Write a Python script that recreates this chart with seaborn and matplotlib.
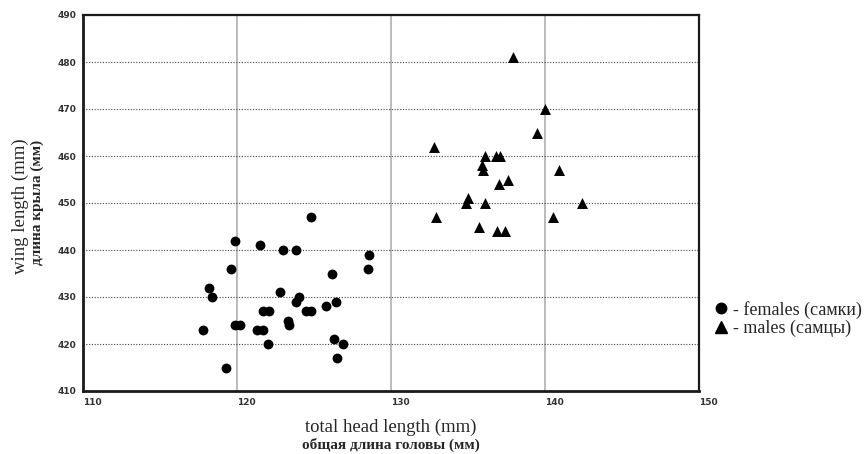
import numpy as np
import pandas as pd
import matplotlib.pyplot as plt
import seaborn as sns
from matplotlib.lines import Line2D

# females (самки): total head length, wing length
fem_head = [119.9, 121.5, 123.0, 123.8, 124.8, 119.6, 118.2, 118.4, 117.8, 119.9,
            120.2, 119.3, 121.3, 121.7, 121.7, 122.1, 122.0, 122.8, 123.8, 124.0,
            123.3, 123.4, 124.5, 124.8, 125.8, 126.2, 126.4, 126.3, 126.9, 126.5,
            128.6, 128.5]
fem_wing = [442, 441, 440, 440, 447, 436, 432, 430, 423, 424,
            424, 415, 423, 423, 427, 427, 420, 431, 429, 430,
            425, 424, 427, 427, 428, 435, 429, 421, 420, 417,
            439, 436]

# males (самцы)
male_head = [137.9, 140.0, 139.5, 132.8, 136.1, 136.8, 137.1, 135.9, 136.0, 140.9,
             137.6, 137.0, 135.0, 134.9, 136.1, 142.4, 132.9, 140.5, 135.7, 136.9,
             137.4]
male_wing = [481, 470, 465, 462, 460, 460, 460, 458, 457, 457,
             455, 454, 451, 450, 450, 450, 447, 447, 445, 444,
             444]

x_ticks = [110, 120, 130, 140, 150]
y_ticks = [410, 420, 430, 440, 450, 460, 470, 480, 490]

fem = pd.DataFrame({'head': fem_head, 'wing': fem_wing})
male = pd.DataFrame({'head': male_head, 'wing': male_wing})

sns.set_style('white')
serif = ['Liberation Serif', 'DejaVu Serif']

fig = plt.figure(figsize=(8.67, 4.54), dpi=100)
ax = fig.add_axes([83 / 867, 1 - 391 / 454, 616 / 867, 376 / 454])

sns.scatterplot(data=fem, x='head', y='wing', color='black', marker='o',
                s=50, linewidth=0, ax=ax, zorder=3)
sns.scatterplot(data=male, x='head', y='wing', color='black', marker='^',
                s=62, linewidth=0, ax=ax, zorder=3)

ax.set_xlim(110, 150)
ax.set_ylim(410, 490)
ax.set_xticks(x_ticks)
ax.set_yticks(y_ticks)
ax.set_xticklabels([str(t) for t in x_ticks], ha='left')
ax.set_yticklabels([str(t) for t in y_ticks])
ax.tick_params(length=0, labelsize=6.5, labelcolor='#333333', pad=5)
for lab in ax.get_xticklabels() + ax.get_yticklabels():
    lab.set_fontweight('bold')

ax.xaxis.grid(True, color='#a8a8a8', lw=1.1, ls='-')
ax.yaxis.grid(True, color='#444444', lw=0.8, ls=(0, (1, 1.5)))
ax.set_axisbelow(True)
for side in ['left', 'bottom', 'top', 'right']:
    ax.spines[side].set_color('#1a1a1a')
    ax.spines[side].set_linewidth(1.6)
ax.spines['left'].set_linewidth(2)
ax.spines['bottom'].set_linewidth(2)

ax.set_xlabel('')
ax.set_ylabel('')
fig.text(391 / 867, 1 - 427 / 454, 'total head length (mm)', ha='center', va='center',
         fontsize=13.5, family=serif)
fig.text(391 / 867, 1 - 445 / 454, 'общая длина головы (мм)', ha='center', va='center',
         fontsize=11, family=serif, fontweight='bold')
fig.text(20 / 867, 1 - 206 / 454, 'wing length (mm)', ha='center', va='center',
         rotation=90, fontsize=13.5, family=serif)
fig.text(37 / 867, 1 - 202 / 454, 'длина крыла (мм)', ha='center', va='center',
         rotation=90, fontsize=11, family=serif, fontweight='bold')

handles = [Line2D([], [], marker='o', color='black', ls='none', markersize=7.5),
           Line2D([], [], marker='^', color='black', ls='none', markersize=8.5)]
fig.legend(handles, ['- females (самки)', '- males (самцы)'],
           loc='center left', bbox_to_anchor=(710 / 867, 1 - 319 / 454),
           frameon=False, handletextpad=0.05, handlelength=1.2, labelspacing=0.05,
           borderaxespad=0, borderpad=0, prop={'family': serif, 'size': 13})

fig.savefig('out.png', dpi=100)
